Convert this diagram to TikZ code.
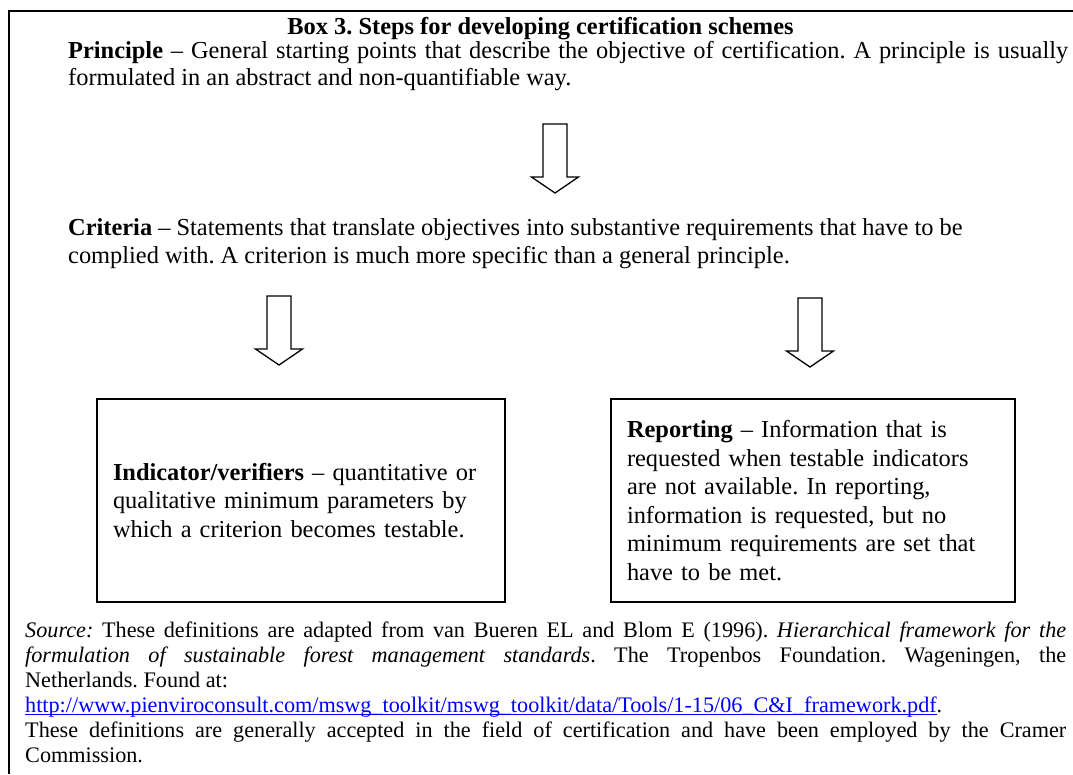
\documentclass[tikz,border=0pt]{standalone}
\usepackage{fontspec}
\setmainfont{Liberation Serif}
\usepackage{tikz}
\usetikzlibrary{positioning}
\definecolor{linkblue}{RGB}{0,0,255}
\frenchspacing
\newcommand{\blockarr}[1]{\draw [arrowline] (#1) ++(-12,0) -- ++(0,53) -- ++(-11.5,0) -- ++(23.5,16) -- ++(23.5,-16) -- ++(-11.5,0) -- ++(0,-53) -- cycle;}
\newcommand{\linktext}[1]{\leavevmode\setbox0\hbox{#1}\rlap{\rule[-2.6pt]{\wd0}{1.1pt}}\box0}

\begin{document}
\begin{tikzpicture}[x=1pt,y=-1pt]
		\tikzstyle{every node}+=[inner sep=0pt]
		\tikzstyle{body}=[font=\fontsize{24.4}{27}\selectfont, align=left, anchor=north west]
		\tikzstyle{stepbox}=[body, draw, line width=1.8pt, anchor=center, inner xsep=16pt, minimum height=203pt]
		\tikzstyle{arrowline}=[line width=1.3pt, line join=miter]
		\useasboundingbox (0,0) rectangle (1073,774);
		\draw [line width=2pt] (8.5,774) -- (8.5,11) -- (1073,11);
		\node [font=\bfseries\fontsize{24.4}{28}\selectfont, anchor=base] (title) at (540.5,34) {Box 3. Steps for developing certification schemes};
		\node [body] (principle) at (68,41.5) {\makebox[1000pt][s]{\textbf{Principle} -- General starting points that describe the objective of certification. A principle is usually}\\formulated in an abstract and non-quantifiable way.};
		\node [body, font=\fontsize{24.4}{28}\selectfont] (criteria) at (68,218.5) {\textbf{Criteria} -- Statements that translate objectives into substantive requirements that have to be\\complied with. A criterion is much more specific than a general principle.};
		\node [stepbox, font=\fontsize{24.4}{28.5}\selectfont, text width=376pt, minimum width=408pt] (indicator) at (301,500.5) {\textbf{Indicator/verifiers} -- quantitative or\\qualitative minimum parameters by\\which a criterion becomes testable.};
		\node [stepbox, font=\fontsize{24.4}{28.5}\selectfont, text width=372pt, minimum width=404pt] (reporting) at (813,500.5) {\textbf{Reporting} -- Information that is\\requested when testable indicators\\are not available. In reporting,\\information is requested, but no\\minimum requirements are set that\\have to be met.};
		% block arrows between the steps
		\coordinate (p2c) at (555,124);
		\coordinate (c2i) at (279,296);
		\coordinate (c2r) at (810,298);
		\blockarr{p2c}
		\blockarr{c2i}
		\blockarr{c2r}
		\node [anchor=north west, align=left, font=\fontsize{22.2}{25}\selectfont] (source) at (25,621.8) {%
			\makebox[1041pt][s]{\textit{Source:} These definitions are adapted from van Bueren EL and Blom E (1996). \textit{Hierarchical framework for the}}\\
			\makebox[1041pt][s]{\textit{formulation of sustainable forest management standards}. The Tropenbos Foundation. Wageningen, the}\\
			Netherlands. Found at:\\
			{\color{linkblue}\linktext{http://www.pienviroconsult.com/mswg\_toolkit/mswg\_toolkit/data/Tools/1-15/06\_C\&I\_framework.pdf}}.\\
			\makebox[1041pt][s]{These definitions are generally accepted in the field of certification and have been employed by the Cramer}\\
			Commission.};
	\end{tikzpicture}
\end{document}
